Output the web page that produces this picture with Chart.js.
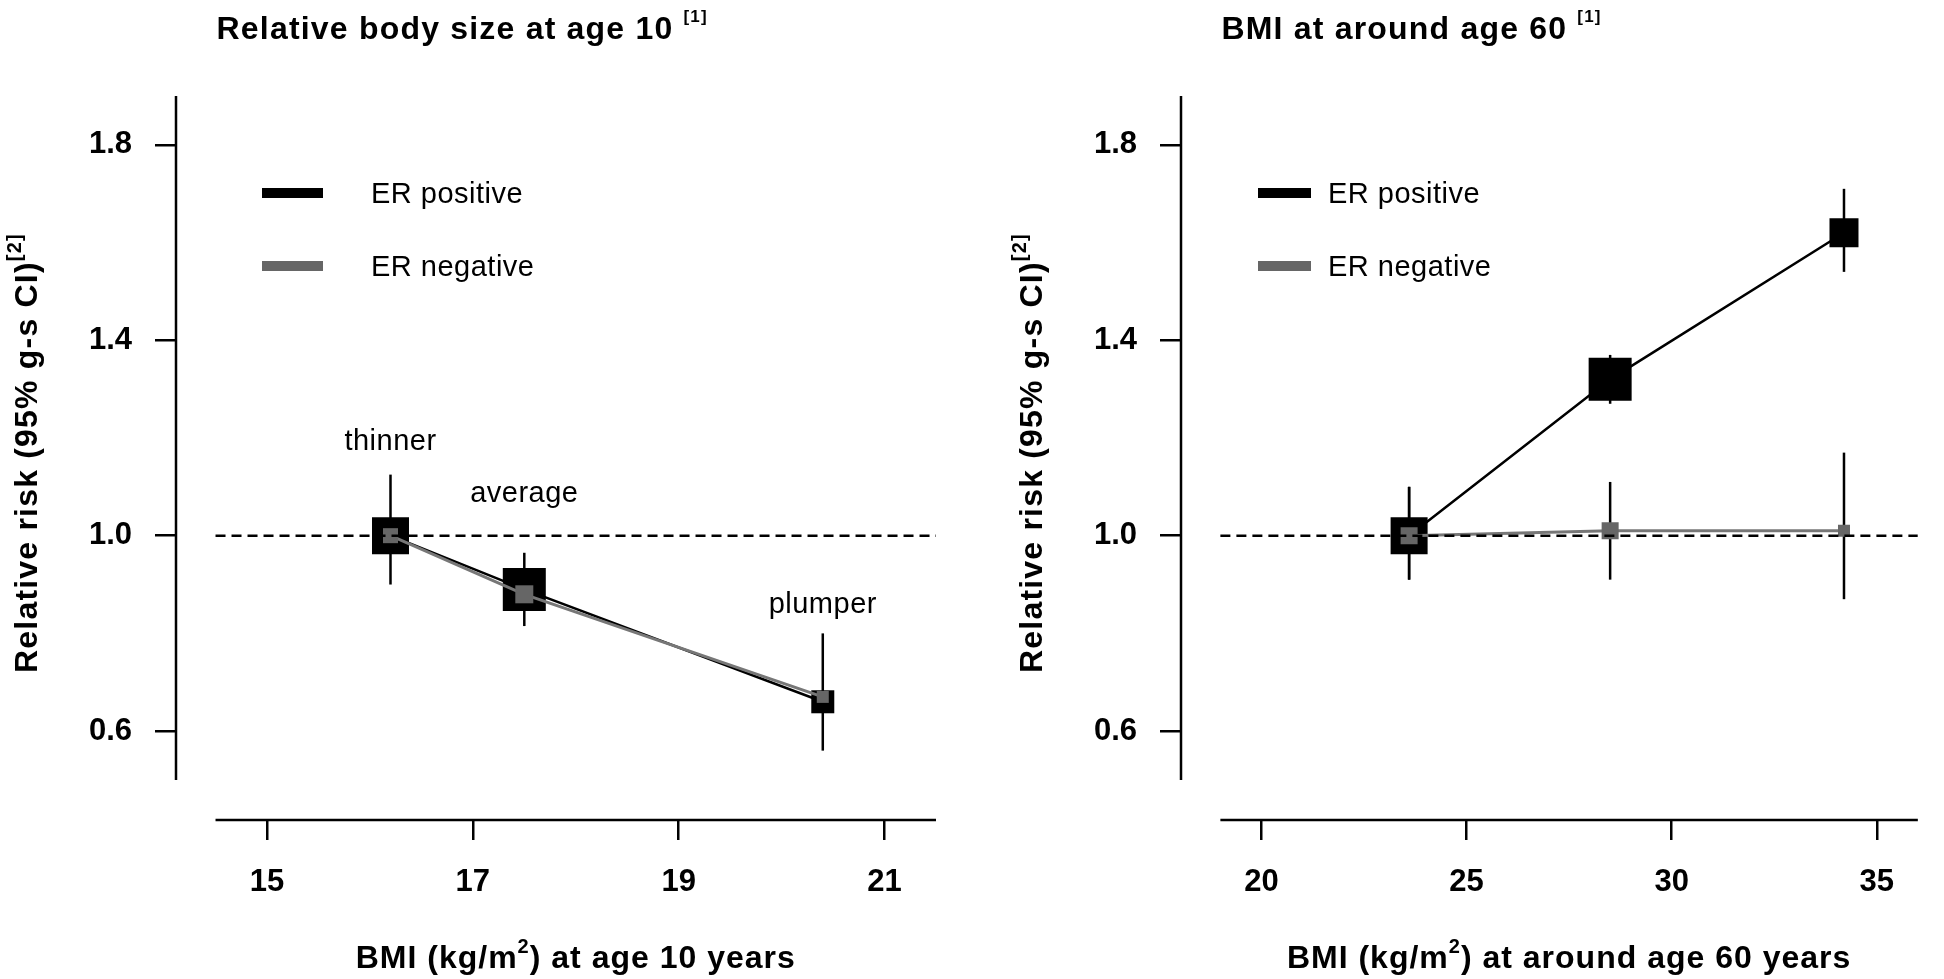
<!DOCTYPE html>
<html>
<head>
<meta charset="utf-8">
<script src="https://cdn.jsdelivr.net/npm/chart.js"></script>
<style>
  html, body { margin: 0; padding: 0; background: #fff; }
  body { width: 1944px; height: 979px; position: relative; overflow: hidden; }
  .panel { position: absolute; top: 0; width: 972px; height: 979px; }
  #leftWrap { left: 0; }
  #rightWrap { left: 972px; }
</style>
</head>
<body>
<div class="panel" id="leftWrap"><canvas id="leftChart"></canvas></div>
<div class="panel" id="rightWrap"><canvas id="rightChart"></canvas></div>
<script>
const FAMILY = "'Liberation Sans', Arial, Helvetica, sans-serif";
const BOLD = "bold 32px " + FAMILY;
const SUP_TITLE = "bold 17px " + FAMILY;
const SUP_AXIS = "bold 20px " + FAMILY;
const NORMAL = "29px " + FAMILY;

// relative body size at age 10
const childLabels = ["thinner", "average", "plumper"];
const childBmi = [16.2, 17.5, 20.4];
const childPosRR = [1.0, 0.89, 0.66];
const childPosLow = [0.90, 0.815, 0.56];
const childPosHigh = [1.125, 0.965, 0.80];
const childNegRR = [1.0, 0.88, 0.67];
const childTicks = [15, 17, 19, 21];

// BMI at around age 60
const adultBmi = [23.6, 28.5, 34.2];
const adultPosRR = [1.0, 1.32, 1.62];
const adultPosLow = [0.91, 1.27, 1.54];
const adultPosHigh = [1.10, 1.37, 1.71];
const adultNegRR = [1.0, 1.01, 1.01];
const adultNegLow = [0.91, 0.91, 0.87];
const adultNegHigh = [1.10, 1.11, 1.17];
const adultTicks = [20, 25, 30, 35];

const rrTicks = [0.6, 1.0, 1.4, 1.8];

// box sides (px), size shows the weight of each estimate
const childPosBox = [37, 43, 23];
const childNegBox = [15, 18, 12];
const adultPosBox = [37, 43, 29];
const adultNegBox = [17, 17, 12];

const toPoints = (xs, ys) => xs.map((x, i) => ({ x: x, y: ys[i] }));

function richText(ctx, parts, x, y, align, spacing) {
  ctx.save();
  if ("letterSpacing" in ctx) ctx.letterSpacing = spacing || "0px";
  let total = 0;
  const widths = parts.map((p) => {
    ctx.font = p.font;
    const w = ctx.measureText(p.text).width;
    total += w;
    return w;
  });
  let cx = align === "center" ? x - total / 2 : x;
  ctx.textAlign = "left";
  ctx.textBaseline = "alphabetic";
  ctx.fillStyle = "#000";
  parts.forEach((p, i) => {
    ctx.font = p.font;
    ctx.fillText(p.text, cx, y - (p.rise || 0));
    cx += widths[i];
  });
  ctx.restore();
}

const rPanel = {
  id: "rPanel",
  beforeDatasetsDraw(chart) {
    const ctx = chart.ctx, xs = chart.scales.x, ys = chart.scales.y;
    ctx.save();
    ctx.strokeStyle = "#000";
    ctx.lineWidth = 2.5;
    chart.data.datasets.forEach((ds) => {
      if (!ds.ciLow) return;
      ds.data.forEach((p, i) => {
        const px = xs.getPixelForValue(p.x);
        ctx.beginPath();
        ctx.moveTo(px, ys.getPixelForValue(ds.ciLow[i]));
        ctx.lineTo(px, ys.getPixelForValue(ds.ciHigh[i]));
        ctx.stroke();
      });
    });
    ctx.restore();
  },
  afterDraw(chart, args, opts) {
    const ctx = chart.ctx, xs = chart.scales.x, ys = chart.scales.y, a = chart.chartArea;
    const xFrom = xs.getPixelForValue(opts.xAxisFrom);
    const xTo = xs.getPixelForValue(opts.xAxisTo);

    // R style detached axes
    ctx.save();
    ctx.strokeStyle = "#000";
    ctx.lineWidth = 2.5;
    ctx.beginPath();
    ctx.moveTo(a.left, ys.getPixelForValue(1.9));
    ctx.lineTo(a.left, ys.getPixelForValue(0.5));
    ctx.moveTo(xFrom, a.bottom);
    ctx.lineTo(xTo, a.bottom);
    ctx.stroke();

    // legend
    chart.data.datasets.filter((d) => d.label).forEach((d, i) => {
      const ly = opts.legendY[i];
      ctx.fillStyle = d.borderColor === "#000" ? "#000" : "#666";
      ctx.fillRect(opts.legendX1, ly - 5, opts.legendX2 - opts.legendX1, 10);
      richText(ctx, [{ text: d.label, font: NORMAL }], opts.legendTextX, ly + 10, "left", "0.5px");
    });
    ctx.restore();

    // titles
    richText(ctx, [
      { text: opts.title + " ", font: BOLD },
      { text: "[1]", font: SUP_TITLE, rise: 17 },
    ], xFrom + 1, 39, "left", "1.2px");

    richText(ctx, [
      { text: "BMI (kg/m", font: BOLD },
      { text: "2", font: SUP_AXIS, rise: 15 },
      { text: ") " + opts.xTitle, font: BOLD },
    ], (xFrom + xTo) / 2, 968, "center", "1px");

    ctx.save();
    ctx.translate(a.left - 139, 673);
    ctx.rotate(-Math.PI / 2);
    richText(ctx, [
      { text: "Relative risk (95% g-s CI)", font: BOLD },
      { text: "[2]", font: SUP_AXIS, rise: 16 },
    ], 0, 0, "left", "1.2px");
    ctx.restore();

    // category notes
    if (opts.notes) {
      opts.notes.text.forEach((t, i) => {
        richText(ctx, [{ text: t, font: NORMAL }], xs.getPixelForValue(opts.notes.x[i]),
          ys.getPixelForValue(opts.notes.baseY[i]), "center", "0.5px");
      });
    }
  },
};

function makePanel(id, p) {
  const ctx = document.getElementById(id).getContext("2d");
  return new Chart(ctx, {
    type: "scatter",
    data: {
      datasets: [
        {
          label: "ER positive",
          data: toPoints(p.bmi, p.posRR),
          ciLow: p.posLow,
          ciHigh: p.posHigh,
          showLine: true,
          borderColor: "#000",
          borderWidth: 2.5,
          backgroundColor: "#000",
          pointStyle: "rect",
          pointRadius: p.posBox.map((s) => s / Math.SQRT2),
          pointBorderWidth: 0,
          order: 2,
        },
        {
          label: "ER negative",
          data: toPoints(p.bmi, p.negRR),
          ciLow: p.negLow,
          ciHigh: p.negHigh,
          showLine: true,
          borderColor: "#777",
          borderWidth: 3,
          backgroundColor: "#666",
          pointStyle: "rect",
          pointRadius: p.negBox.map((s) => s / Math.SQRT2),
          pointBorderWidth: 0,
          order: 1,
        },
        {
          label: "",
          data: [{ x: p.xAxisFrom, y: 1 }, { x: p.xAxisTo, y: 1 }],
          showLine: true,
          borderColor: "#000",
          borderWidth: 2.5,
          borderDash: [10, 6],
          pointRadius: 0,
          order: 0,
        },
      ],
    },
    options: {
      responsive: true,
      maintainAspectRatio: false,
      animation: false,
      events: [],
      layout: { padding: { left: 0, top: 96, right: p.padRight, bottom: 0 } },
      scales: {
        x: {
          type: "linear",
          min: p.xMin,
          max: p.xMax,
          afterFit: (s) => { s.height = 159; },
          afterBuildTicks: (s) => { s.ticks = p.xTicks.map((v) => ({ value: v })); },
          border: { display: false },
          grid: { display: true, drawOnChartArea: false, drawTicks: true, tickLength: 20, lineWidth: 2.5, tickColor: "#000" },
          ticks: { color: "#000", font: { family: FAMILY, size: 31, weight: "bold" }, padding: 24, maxRotation: 0, autoSkip: false, callback: (v) => String(v) },
        },
        y: {
          type: "linear",
          min: 0.418,
          max: 1.9,
          afterFit: (s) => { s.width = p.yWidth; },
          afterBuildTicks: (s) => { s.ticks = rrTicks.map((v) => ({ value: v })); },
          border: { display: false },
          grid: { display: true, drawOnChartArea: false, drawTicks: true, tickLength: 21, lineWidth: 2.5, tickColor: "#000" },
          ticks: { color: "#000", font: { family: FAMILY, size: 31, weight: "bold" }, padding: 23, autoSkip: false, callback: (v) => v.toFixed(1) },
        },
      },
      plugins: {
        legend: { display: false },
        title: { display: false },
        tooltip: { enabled: false },
        rPanel: {
          xAxisFrom: p.xAxisFrom,
          xAxisTo: p.xAxisTo,
          title: p.title,
          xTitle: p.xTitle,
          legendX1: p.legendX1,
          legendX2: p.legendX2,
          legendTextX: p.legendTextX,
          legendY: [193, 266],
          notes: p.notes,
        },
      },
    },
    plugins: [rPanel],
  });
}

makePanel("leftChart", {
  bmi: childBmi,
  posRR: childPosRR, posLow: childPosLow, posHigh: childPosHigh,
  negRR: childNegRR, negLow: null, negHigh: null,
  posBox: childPosBox, negBox: childNegBox,
  xMin: 14.116, xMax: 21.5, xAxisFrom: 14.5, xAxisTo: 21.5, xTicks: childTicks,
  padRight: 36, yWidth: 176,
  title: "Relative body size at age 10",
  xTitle: "at age 10 years",
  legendX1: 262, legendX2: 323, legendTextX: 371,
  notes: { text: childLabels, x: childBmi, baseY: [1.175, 1.069, 0.842] },
});

makePanel("rightChart", {
  bmi: adultBmi,
  posRR: adultPosRR, posLow: adultPosLow, posHigh: adultPosHigh,
  negRR: adultNegRR, negLow: adultNegLow, negHigh: adultNegHigh,
  posBox: adultPosBox, negBox: adultNegBox,
  xMin: 18.04, xMax: 36, xAxisFrom: 19, xAxisTo: 36, xTicks: adultTicks,
  padRight: 3, yWidth: 209,
  title: "BMI at around age 60",
  xTitle: "at around age 60 years",
  legendX1: 286, legendX2: 339, legendTextX: 356,
  notes: null,
});
</script>
</body>
</html>
